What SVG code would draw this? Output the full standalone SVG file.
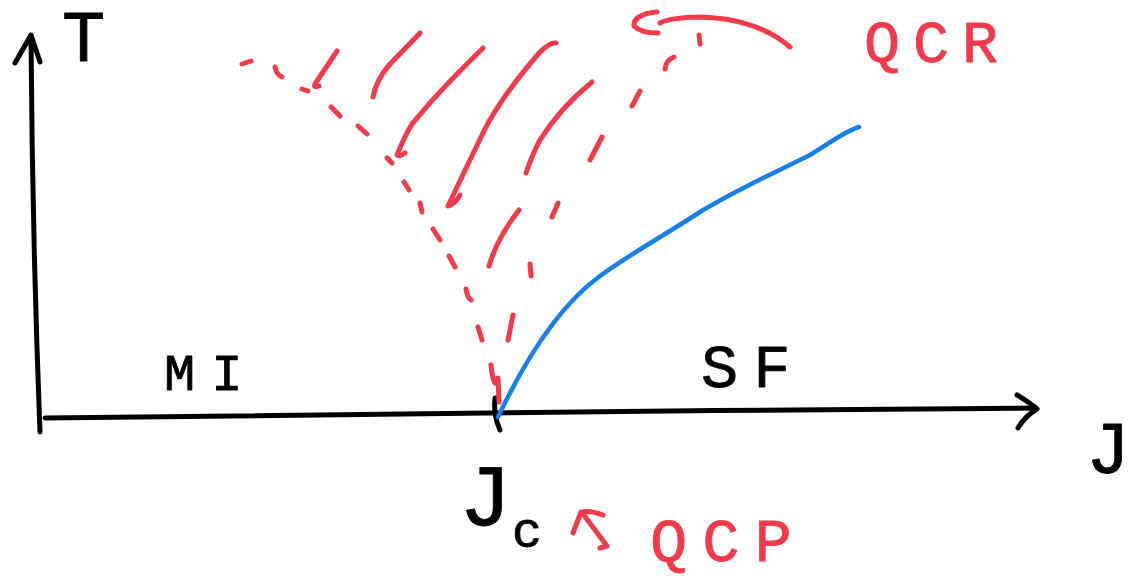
<svg xmlns="http://www.w3.org/2000/svg" width="1130" height="578" viewBox="0 0 1130 578">
<style>
.ink{fill:none;stroke:#000;stroke-width:5;stroke-linecap:round;stroke-linejoin:round}
.red{fill:none;stroke:#f23a4a;stroke-width:5;stroke-linecap:round;stroke-linejoin:round}
.blue{fill:none;stroke:#1580ee;stroke-width:4.5;stroke-linecap:round;stroke-linejoin:round}
.lbl{font-family:"Liberation Mono","DejaVu Sans Mono",monospace;fill:#000;stroke:#000;stroke-width:0.8;stroke-linejoin:round}
.rlbl{font-family:"Liberation Mono","DejaVu Sans Mono",monospace;fill:#f23a4a;stroke:#f23a4a;stroke-width:0.8;stroke-linejoin:round}
</style>
<rect width="1130" height="578" fill="#fff"/>
<g id="axes">
<path class="ink" d="M40,432 C36,330 32,200 31,36"/>
<path class="ink" d="M15,63 L31,35 L40,62"/>
<path class="ink" d="M45,418 C300,415 700,410 1036,408"/>
<path class="ink" d="M1017,395 Q1030,403 1037,409 Q1025,416 1018,428"/>
<path class="ink" d="M495,398 Q493,415 500,430"/>
</g>
<g id="labels">
<text class="lbl" x="62" y="61" font-size="72">T</text>
<text class="lbl" x="164" y="390" font-size="52" letter-spacing="16">MI</text>
<text class="lbl" x="701" y="387" font-size="62" letter-spacing="15">SF</text>
<text class="lbl" x="1086" y="473" font-size="74">J</text>
<text class="lbl" x="459" y="525" font-size="88">J</text>
<text class="lbl" x="512" y="547" font-size="50">c</text>
</g>
<g id="left-boundary">
<path class="red" d="M242,64 L251,61"/>
<path class="red" d="M275,67 Q276,74 282,77"/>
<path class="red" d="M302,89 L308,91"/>
<path class="red" d="M331,107 L340,116"/>
<path class="red" d="M358,126 L367,134"/>
<path class="red" d="M387,158 L392,163"/>
<path class="red" d="M404,182 L409,190"/>
<path class="red" d="M420,203 L422,212"/>
<path class="red" d="M433,229 L440,240"/>
<path class="red" d="M449,256 L455,267"/>
<path class="red" d="M466,289 Q467,297 471,300"/>
<path class="red" d="M478,327 L482,340"/>
<path class="red" d="M491,365 Q492,378 495,383"/>
<path class="red" d="M498,378 L499,402"/>
</g>
<g id="right-boundary">
<path class="red" d="M508,340 L513,315"/>
<path class="red" d="M530,264 L531,276"/>
<path class="red" d="M552,217 L558,203"/>
<path class="red" d="M590,160 L602,137"/>
<path class="red" d="M632,106 L640,91"/>
<path class="red" d="M665,69 Q666,60 674,57"/>
<path class="red" d="M699,35 L700,44"/>
</g>
<g id="qcr-hatching">
<path class="red" d="M337,51 L315,84 Q313,88 319,86"/>
<path class="red" d="M373,97 Q376,80 390,64 L420,33"/>
<path class="red" d="M483,48 Q440,90 418,117 L412,124 Q405,135 397,155 Q399,157 405,153"/>
<path class="red" d="M556,43 Q550,42 540,52 Q500,98 483,133 Q465,170 448,206 Q455,204 460,195"/>
<path class="red" d="M592,82 Q560,108 540,140 Q532,155 526,173"/>
<path class="red" d="M519,210 Q505,228 497,245 Q492,256 489,266"/>
</g>
<g id="crossover">
<path class="blue" d="M498,417 C525,360 560,305 600,276 C630,254 660,238 700,212 C740,188 780,170 810,155 C830,143 845,131 859,127"/>
</g>
<g id="connectors">
<path class="red" d="M790,47 C770,30 740,18 700,17 C680,17 665,20 660,23"/>
<path class="red" d="M657,12 C640,13 633,20 634,26 C640,32 650,33 658,33"/>
<path class="red" d="M600,548 L607,546 L583,514"/>
<path class="red" d="M573,533 L581,512 Q590,510 603,515"/>
</g>
<g id="annotations">
<text class="rlbl" x="864" y="62" font-size="60" letter-spacing="13">QCR</text>
<text class="rlbl" x="650" y="561" font-size="62" letter-spacing="15">QCP</text>
</g>
</svg>
